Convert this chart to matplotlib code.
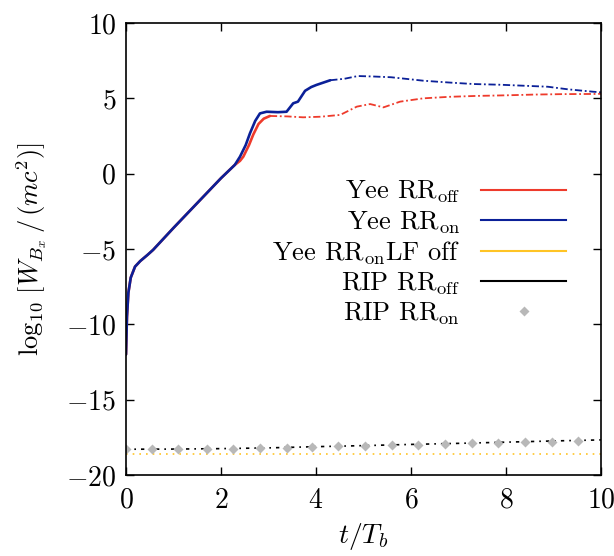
import matplotlib
matplotlib.use("Agg")
import matplotlib.pyplot as plt
from matplotlib.lines import Line2D

plt.rcParams['font.family'] = 'cmr10'
plt.rcParams['mathtext.fontset'] = 'cm'
plt.rcParams['axes.formatter.use_mathtext'] = True
plt.rcParams['font.size'] = 19

# Yee RR_off (red)
t_yee_off = [0, 0.02, 0.05, 0.1, 0.19, 0.3, 0.45, 0.57, 1.0, 1.5, 2.0, 2.29, 2.4, 2.47, 2.59,
             2.68, 2.79, 2.9, 3.03, 3.4, 3.73, 4.1, 4.51, 4.86, 5.14, 5.42, 5.77, 6.26, 6.8,
             7.38, 8.0, 8.6, 9.2, 9.86, 10.0]
y_yee_off = [-12, -9.5, -7.9, -6.9, -6.17, -5.8, -5.4, -5.06, -3.6, -1.95, -0.3, 0.58, 0.85, 1.13,
             1.9, 2.6, 3.3, 3.65, 3.83, 3.8, 3.74, 3.78, 3.9, 4.45, 4.62, 4.4, 4.78, 5.0, 5.1,
             5.16, 5.2, 5.25, 5.28, 5.29, 5.3]

# Yee RR_on (blue)
t_yee_on = [0, 0.02, 0.05, 0.1, 0.19, 0.3, 0.45, 0.57, 1.0, 1.5, 2.0, 2.29, 2.4, 2.52, 2.61, 2.72,
            2.82, 2.96, 3.2, 3.38, 3.52, 3.62, 3.77, 3.9, 4.01, 4.3, 4.6, 4.88, 5.2, 5.58, 6.26,
            6.8, 7.31, 7.9, 8.5, 8.88, 9.3, 9.83, 10.0]
y_yee_on = [-12, -9.5, -7.9, -6.9, -6.17, -5.8, -5.4, -5.06, -3.6, -1.95, -0.3, 0.58, 1.13, 1.9,
            2.68, 3.5, 4.0, 4.11, 4.08, 4.11, 4.67, 4.78, 5.5, 5.75, 5.89, 6.2, 6.3, 6.48, 6.45,
            6.4, 6.17, 6.05, 5.95, 5.9, 5.82, 5.77, 5.6, 5.44, 5.4]

# Yee RR_on LF off (yellow)
t_yee_lf = [0, 10]
y_yee_lf = [-18.6, -18.6]

# RIP RR_off (black)
t_rip_off = [0, 1, 2, 3, 4, 5, 6, 7, 8, 9, 10]
y_rip_off = [-18.29, -18.28, -18.25, -18.2, -18.12, -18.05, -17.97, -17.9, -17.82, -17.74, -17.67]

# RIP RR_on (gray diamonds)
t_rip_on = [0, 0.54, 1.1, 1.7, 2.26, 2.82, 3.38, 3.91, 4.47, 5.03, 5.59, 6.15, 6.72, 7.28,
            7.84, 8.4, 8.96, 9.52]
y_rip_on = [-18.29, -18.29, -18.29, -18.27, -18.25, -18.22, -18.2, -18.11, -18.09, -18.05,
            -18.02, -17.98, -17.94, -17.89, -17.85, -17.8, -17.78, -17.72]

labels = [r'Yee RR$_{\rm off}$', r'Yee RR$_{\rm on}$', r'Yee RR$_{\rm on}$LF off',
          r'RIP RR$_{\rm off}$', r'RIP RR$_{\rm on}$']

c_red = '#ee3b2c'
c_blue = '#0b2098'
c_yel = '#ffc425'
c_gray = '#b8b8b8'

fig = plt.figure(figsize=(6.14, 5.56), dpi=100)
ax = fig.add_axes([126/614, 1-475/556, 475/614, 452/556])

# dense early part solid, sparse later part dash-dotted
n_red = t_yee_off.index(3.03) + 1
n_blue = t_yee_on.index(4.3) + 1
dd = (0, (4, 1.5, 1, 1.5))
ax.plot(t_yee_off[:n_red], y_yee_off[:n_red], color=c_red, lw=1.9, solid_capstyle='round')
ax.plot(t_yee_off[n_red-1:], y_yee_off[n_red-1:], color=c_red, lw=1.3, ls=dd)
ax.plot(t_yee_on[:n_blue], y_yee_on[:n_blue], color=c_blue, lw=1.9, solid_capstyle='round')
ax.plot(t_yee_on[n_blue-1:], y_yee_on[n_blue-1:], color=c_blue, lw=1.3, ls=dd)
ax.plot(t_yee_lf, y_yee_lf, color=c_yel, lw=1.2, ls=(0, (1, 3)))
ax.plot(t_rip_off, y_rip_off, color='black', lw=1.2, ls=(0, (2, 3, 1, 3)))
ax.plot(t_rip_on, y_rip_on, color=c_gray, ls='none', marker='D', ms=5.5, mec='none')

ax.set_xlim(0, 10)
ax.set_ylim(-20, 10)
ax.set_xticks([0, 2, 4, 6, 8, 10])
ax.set_yticks([-20, -15, -10, -5, 0, 5, 10])
ax.tick_params(direction='in', top=True, right=True, length=6, width=1, labelsize=20, pad=7)
ax.tick_params(axis='x', pad=9)
for s in ax.spines.values():
    s.set_linewidth(1.2)

ax.set_xlabel(r'$t/T_b$', fontsize=20, labelpad=5)
ax.set_ylabel(r'$\log_{10}\,[W_{B_x}\,/\,(mc^2)]$', fontsize=19, labelpad=12)

handles = [Line2D([], [], color=c_red, lw=1.5),
           Line2D([], [], color=c_blue, lw=1.5),
           Line2D([], [], color=c_yel, lw=1.5),
           Line2D([], [], color='black', lw=1.5),
           Line2D([], [], color=c_gray, ls='none', marker='D', ms=5.5, mec='none')]
ax.legend(handles, labels, loc='upper right', bbox_to_anchor=(0.926, 0.655), frameon=False,
          markerfirst=False, fontsize=19, labelspacing=0.14, handlelength=3.2,
          handletextpad=0.8, borderpad=0, borderaxespad=0)

fig.savefig('out.png', dpi=100)
